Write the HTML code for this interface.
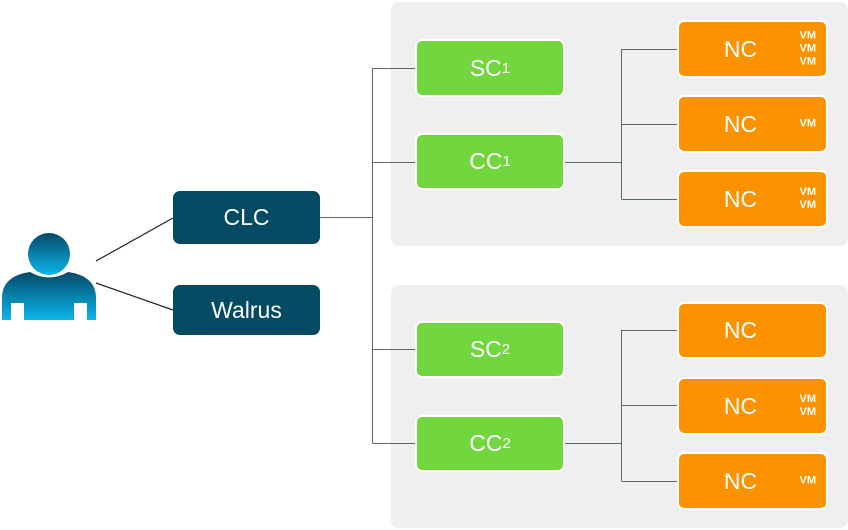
<!DOCTYPE html>
<html><head><style>
body{margin:0;width:848px;height:530px;background:#fff;position:relative;overflow:hidden;font-family:"Liberation Sans",sans-serif}
.p{position:absolute;background:#efefef;border-radius:8px}
.b{position:absolute;border-radius:7px;color:#fff;display:flex;align-items:center;justify-content:center;font-size:23px;box-sizing:border-box}
.d{background:#044a63}
.g{background:#72d63e;border:2px solid #fff}
.o{background:#fd9200;border:2px solid #fff;padding-right:24px}
.vm{position:absolute;right:10px;top:50%;transform:translateY(-50%);font-size:11px;line-height:13px;font-weight:bold;text-align:center}
sub{font-size:15px;vertical-align:-1px}
</style></head><body>
<div class="p" style="left:391px;top:2px;width:457px;height:244px"></div>
<div class="p" style="left:391px;top:285px;width:457px;height:243px"></div>
<svg style="position:absolute;left:0;top:0" width="848" height="530">
<defs><linearGradient id="gr" x1="0" y1="0" x2="0" y2="1"><stop offset="0" stop-color="#04496a"/><stop offset="1" stop-color="#0bb6ea"/></linearGradient></defs>
<g stroke="#5a6a6a" stroke-width="1" fill="none">
<path d="M320 217.5H372.5M372.5 68V443M372.5 68.5H416M372.5 162.5H416M372.5 349.5H416M372.5 443.5H416"/>
<path d="M564 162.5H621.5M621.5 49V199M621.5 49.5H678M621.5 124.5H678M621.5 199.5H678"/>
<path d="M564 443.5H621.5M621.5 330V481M621.5 330.5H678M621.5 405.5H678M621.5 481.5H678"/>
</g>
<path d="M96 261L173 218M96 283L173 310" stroke="#222" stroke-width="1.2"/>
<circle cx="49" cy="254" r="21" fill="url(#gr)"/>
<path d="M2 320V298Q2 276 30 272Q49 283 68 272Q96 276 96 298V320H87V303H74V320H24V303H11V320Z" fill="url(#gr)"/>
</svg>
<div class="b d" style="left:173px;top:191px;width:147px;height:53px">CLC</div>
<div class="b d" style="left:173px;top:285px;width:147px;height:50px">Walrus</div>
<div class="b g" style="left:415px;top:39px;width:150px;height:58px">SC<sub>1</sub></div>
<div class="b g" style="left:415px;top:133px;width:150px;height:57px">CC<sub>1</sub></div>
<div class="b g" style="left:415px;top:321px;width:150px;height:57px">SC<sub>2</sub></div>
<div class="b g" style="left:415px;top:415px;width:150px;height:57px">CC<sub>2</sub></div>
<div class="b o" style="left:677px;top:20px;width:151px;height:58px">NC<div class="vm">VM<br>VM<br>VM</div></div>
<div class="b o" style="left:677px;top:95px;width:151px;height:58px">NC<div class="vm">VM</div></div>
<div class="b o" style="left:677px;top:170px;width:151px;height:58px">NC<div class="vm">VM<br>VM</div></div>
<div class="b o" style="left:677px;top:302px;width:151px;height:57px">NC</div>
<div class="b o" style="left:677px;top:377px;width:151px;height:58px">NC<div class="vm">VM<br>VM</div></div>
<div class="b o" style="left:677px;top:452px;width:151px;height:58px">NC<div class="vm">VM</div></div>
</body></html>
